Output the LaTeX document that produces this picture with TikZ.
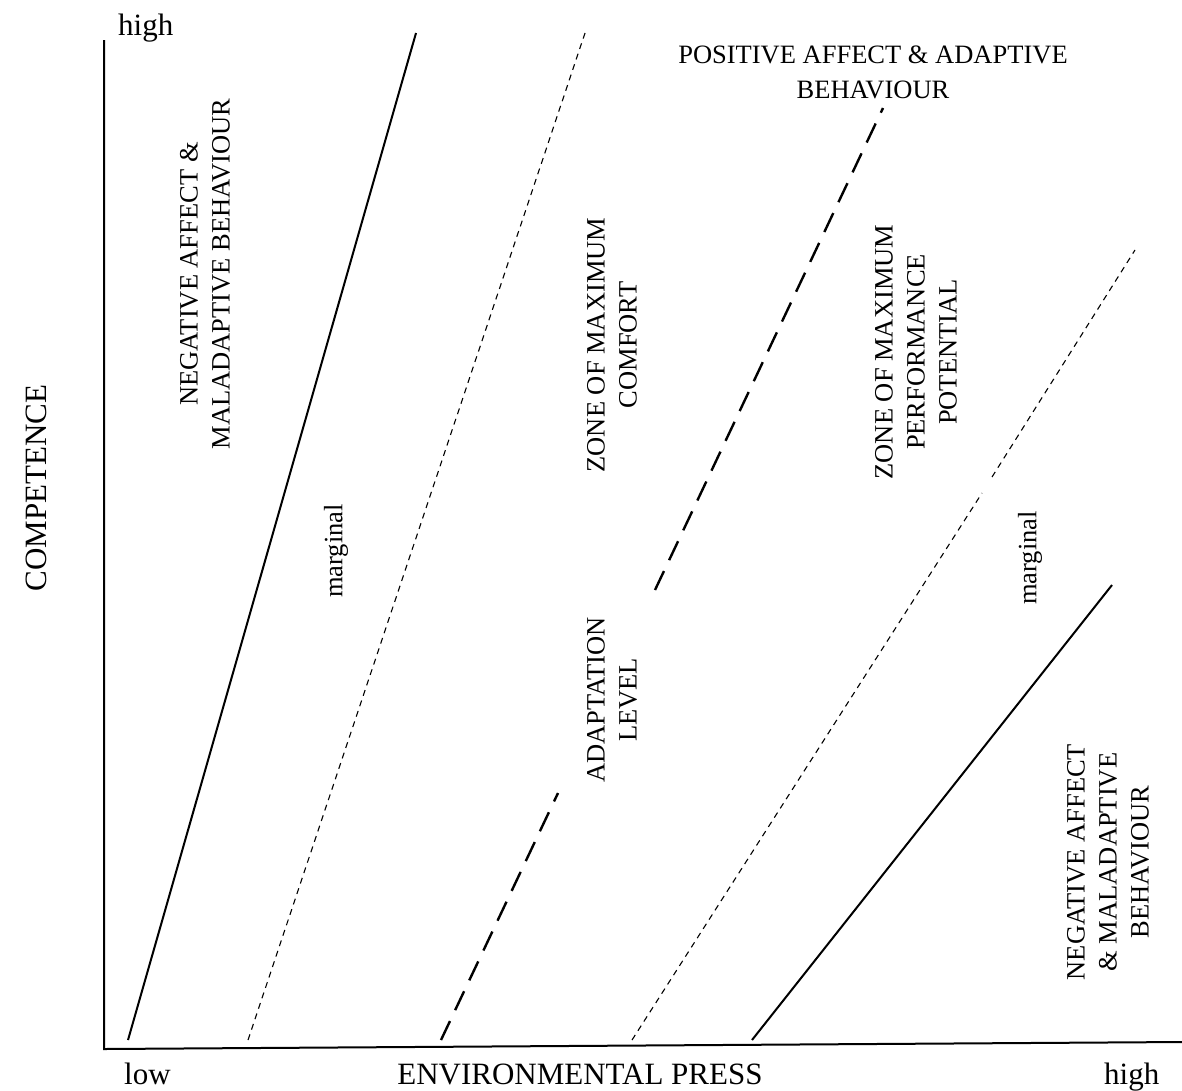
\documentclass[tikz,border=0pt]{standalone}
\usepackage{fontspec}
\setmainfont{Liberation Serif}
\usetikzlibrary{positioning}
\newcommand{\zonefont}{\fontsize{26.5}{32}\selectfont}
\newcommand{\axisfont}{\fontsize{31}{36}\selectfont}
\tikzset{
  zone/.style={
    font=\zonefont,
    align=center,
    rotate=90,
    inner sep=0pt
  },
  flatzone/.style={
    font=\zonefont,
    align=center,
    inner sep=0pt
  },
  axislabel/.style={
    font=\axisfont,
    inner sep=0pt
  },
  axisline/.style={line width=2pt},
  boundary/.style={line width=2pt},
  marginline/.style={line width=1.1pt, dash pattern=on 6pt off 5pt},
  adaptline/.style={line width=2.4pt, dash pattern=on 21pt off 12pt}
}

\begin{document}
\begin{tikzpicture}[x=1pt, y=-1pt]
\useasboundingbox (0,0) rectangle (1182,1090);

% Axes
\coordinate (origin) at (104,1049);
\coordinate (ytop) at (104,40);
\coordinate (xend) at (1182,1042);
\draw[axisline] (ytop) -- (origin) -- (xend);

\node[axislabel, anchor=base west] (yhigh) at (118,35) {high};
\node[axislabel, rotate=90] (comp) at (36,488) {COMPETENCE};
\node[axislabel, anchor=base west] (xlow) at (124,1084) {low};
\node[axislabel, anchor=base] (press) at (580,1084) {ENVIRONMENTAL PRESS};
\node[axislabel, anchor=base west] (xhigh) at (1104,1084) {high};

% Zone boundaries
\coordinate (a0) at (128,1040);
\coordinate (a1) at (416,33);
\coordinate (b0) at (248,1040);
\coordinate (b1) at (585,33);
\coordinate (c0) at (441,1040);
\coordinate (c1) at (558,793);
\coordinate (c2) at (655,590);
\coordinate (c3) at (883,108);
\coordinate (d0) at (632,1040);
\coordinate (d1) at (982,493);
\coordinate (d2) at (992,477);
\coordinate (d3) at (1135,250);
\coordinate (e0) at (752,1040);
\coordinate (e1) at (1112,585);

\draw[boundary] (a0) -- (a1);
\draw[marginline] (b0) -- (b1);
\draw[adaptline] (c0) -- (c1);
\draw[adaptline] (c2) -- (c3);
\draw[marginline] (d0) -- (d1);
\draw[marginline] (d2) -- (d3);
\draw[boundary] (e0) -- (e1);

% Zone labels
\node[zone] (negleft) at (205,274) {NEGATIVE AFFECT \&\\MALADAPTIVE BEHAVIOUR};
\node[zone] (margleft) at (336,551) {marginal};
\node[zone] (comfort) at (612,345) {ZONE OF MAXIMUM\\COMFORT};
\node[flatzone, font=\fontsize{26.5}{35}\selectfont] (posaff) at (873,72) {POSITIVE AFFECT \& ADAPTIVE\\BEHAVIOUR};
\node[zone] (perform) at (916,352) {ZONE OF MAXIMUM\\PERFORMANCE\\POTENTIAL};
\node[zone] (adapt) at (612,700) {ADAPTATION\\LEVEL};
\node[zone] (margright) at (1030,558) {marginal};
\node[zone] (negright) at (1108,862) {NEGATIVE AFFECT\\\& MALADAPTIVE\\BEHAVIOUR};

\end{tikzpicture}
\end{document}
